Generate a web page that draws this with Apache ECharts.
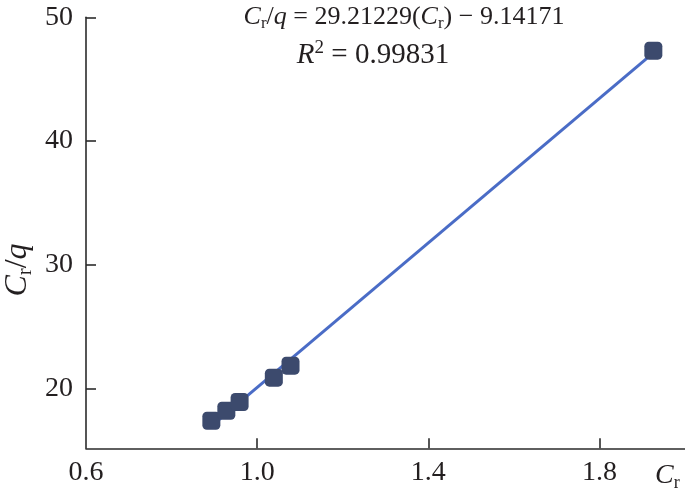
<!DOCTYPE html>
<html><head><meta charset="utf-8">
<script src="https://cdn.jsdelivr.net/npm/echarts@6/dist/echarts.min.js"></script>
<style>html,body{margin:0;padding:0;background:#fff}#c{width:685px;height:503px}</style>
</head><body><div id="c"></div>
<script>
// Data
const crValues = [0.893, 0.928, 0.959, 1.039, 1.078, 1.926];
const crOverQ = [17.38, 18.19, 18.89, 20.86, 21.83, 47.30];
const fitLineX = [0.893, 1.926];
const fitLineY = [16.95, 47.12];
const xLabelValues = [0.6, 1.0, 1.4, 1.8];
const xTickValues = [1.0, 1.4, 1.8];
const yTickValues = [20, 30, 40, 50];
const equationLine = '29.21229';
const interceptText = '9.14171';
const r2Text = '0.99831';

const FONT = "'Liberation Serif','Times New Roman',serif";
const TXT = '#231f20';
const AX = '#2b2b2b';

function rich(size, subSize) {
  return {
    i: {fontFamily: FONT, fontSize: size, fontStyle: 'italic', fill: TXT, color: TXT, lineHeight: size + 4},
    n: {fontFamily: FONT, fontSize: size, fill: TXT, color: TXT, lineHeight: size + 4},
    sub: {fontFamily: FONT, fontSize: subSize, fill: TXT, color: TXT, lineHeight: subSize + 2, verticalAlign: 'bottom'},
    sup: {fontFamily: FONT, fontSize: subSize, fill: TXT, color: TXT, lineHeight: subSize + 2, verticalAlign: 'top'}
  };
}

const chart = echarts.init(document.getElementById('c'), null, {renderer: 'canvas'});
chart.setOption({
  animation: false,
  backgroundColor: '#fff',
  grid: {left: 86, right: 0, top: 17.3, bottom: 54.7, containLabel: false},
  xAxis: {
    type: 'value', min: 0.6, max: 2.0,
    axisLine: {show: true, onZero: false, lineStyle: {color: AX, width: 1.6}},
    axisTick: {show: true, inside: true, length: 10, customValues: xTickValues, lineStyle: {color: AX, width: 1.6}},
    axisLabel: {customValues: xLabelValues, margin: 10, fontFamily: FONT, fontSize: 28, color: TXT,
      formatter: v => v.toFixed(1)},
    splitLine: {show: false}
  },
  yAxis: {
    type: 'value', min: 15.15, max: 50,
    axisLine: {show: true, onZero: false, lineStyle: {color: AX, width: 1.6}},
    axisTick: {show: true, inside: true, length: 10, customValues: yTickValues, lineStyle: {color: AX, width: 1.6}},
    axisLabel: {customValues: yTickValues, margin: 13, fontFamily: FONT, fontSize: 28, color: TXT},
    splitLine: {show: false}
  },
  series: [
    {
      type: 'line', data: fitLineX.map((x, i) => [x, fitLineY[i]]),
      showSymbol: false, symbol: 'none',
      lineStyle: {color: '#4a6cc6', width: 3}, z: 2
    },
    {
      type: 'scatter', data: crValues.map((x, i) => [x, crOverQ[i]]),
      symbol: 'roundRect', symbolSize: 18,
      itemStyle: {color: '#3c4a6d', opacity: 1}, z: 3
    }
  ],
  graphic: [
    {
      type: 'text', x: 404, y: 17.5, z: 10,
      style: {
        text: '{i|C}{sub|r}{n|/}{i|q}{n| = ' + equationLine + '(}{i|C}{sub|r}{n|) − ' + interceptText + '}',
        align: 'center', verticalAlign: 'middle', rich: rich(26, 17)
      }
    },
    {
      type: 'text', x: 373, y: 55.5, z: 10,
      style: {
        text: '{i|R}{sup|2}{n| = ' + r2Text + '}',
        align: 'center', verticalAlign: 'middle', rich: rich(29, 19)
      }
    },
    {
      type: 'text', x: 18, y: 270, rotation: Math.PI / 2, z: 10,
      style: {
        text: '{i|C}{sub|r}{n|/}{i|q}',
        align: 'center', verticalAlign: 'middle', rich: rich(32, 21)
      }
    },
    {
      type: 'text', x: 655, y: 476, z: 10,
      style: {
        text: '{i|C}{sub|r}',
        align: 'left', verticalAlign: 'middle', rich: rich(28, 18)
      }
    }
  ]
});
</script>
</body></html>
